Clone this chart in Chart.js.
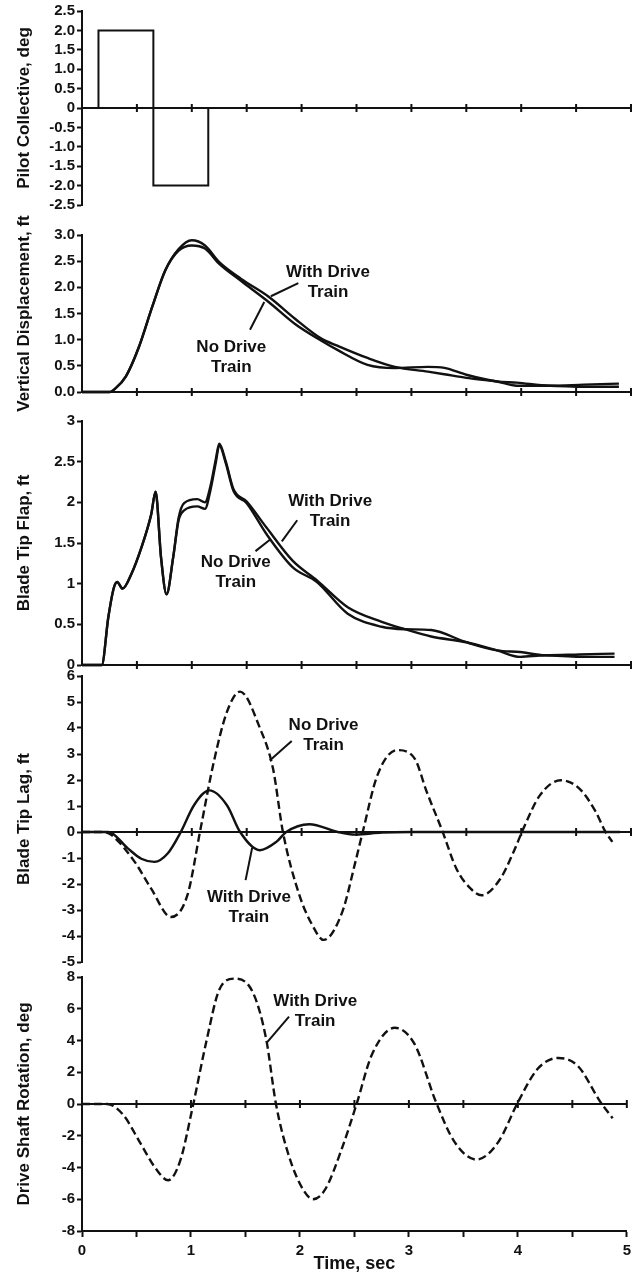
<!DOCTYPE html>
<html>
<head>
<meta charset="utf-8">
<title>Collective pulse response</title>
<script src="https://cdn.jsdelivr.net/npm/chart.js@4.4.1/dist/chart.umd.min.js"></script>
<style>
  html, body { margin: 0; padding: 0; background: #fff; }
  #page { position: relative; width: 636px; height: 1282px; overflow: hidden; background: #fff; }
  #page canvas { position: absolute; left: 0; }
</style>
</head>
<body>
<div id="page">
  <canvas id="collective-chart"></canvas>
  <canvas id="displacement-chart"></canvas>
  <canvas id="flap-chart"></canvas>
  <canvas id="lag-chart"></canvas>
  <canvas id="shaft-chart"></canvas>
</div>
<script>
// Pilot collective input (deg)
const collectiveTime = [0, 0.15, 0.15, 0.65, 0.65, 1.15, 1.15, 5];
const collectiveDeg = [0, 0, 2, 2, -2, -2, 0, 0];

// Vertical displacement (ft)
const dispTime = [0, 0.25, 0.3, 0.4, 0.52, 0.64, 0.76, 0.88, 1.0, 1.12, 1.25, 1.45, 1.7, 1.94, 2.18, 2.33, 2.6, 2.85, 3.15, 3.3, 3.5, 3.78, 3.96, 4.26, 4.57, 4.89];
const dispWith = [0, 0, 0.06, 0.3, 0.87, 1.63, 2.33, 2.73, 2.9, 2.8, 2.48, 2.16, 1.82, 1.4, 1.02, 0.88, 0.65, 0.48, 0.39, 0.34, 0.27, 0.2, 0.12, 0.12, 0.1, 0.1];
const dispNo = [0, 0, 0.06, 0.3, 0.87, 1.63, 2.33, 2.7, 2.8, 2.74, 2.45, 2.12, 1.72, 1.3, 0.98, 0.8, 0.52, 0.46, 0.48, 0.46, 0.33, 0.2, 0.18, 0.12, 0.14, 0.16];

// Blade tip flap (ft)
const flapTime = [0, 0.18, 0.24, 0.29, 0.32, 0.37, 0.45, 0.54, 0.63, 0.67, 0.72, 0.77, 0.83, 0.88, 0.93, 1.05, 1.12, 1.17, 1.22, 1.25, 1.31, 1.38, 1.5, 1.68, 1.92, 2.14, 2.42, 2.73, 2.94, 3.18, 3.5, 3.78, 3.99, 4.22, 4.53, 4.85];
const flapWith = [0, 0, 0.59, 0.95, 1.02, 0.94, 1.12, 1.44, 1.85, 2.13, 1.32, 0.87, 1.32, 1.81, 1.99, 2.04, 2.0, 2.2, 2.54, 2.72, 2.5, 2.16, 2.01, 1.69, 1.28, 1.04, 0.71, 0.53, 0.44, 0.35, 0.28, 0.18, 0.1, 0.12, 0.1, 0.1];
const flapNo = [0, 0, 0.59, 0.95, 1.02, 0.94, 1.12, 1.44, 1.85, 2.13, 1.32, 0.87, 1.32, 1.78, 1.9, 1.95, 1.92, 2.15, 2.5, 2.7, 2.48, 2.14, 1.99, 1.61, 1.2, 1.02, 0.63, 0.47, 0.44, 0.43, 0.28, 0.18, 0.16, 0.12, 0.13, 0.14];

// Blade tip lag (ft)
const lagTimeWith = [0, 0.24, 0.42, 0.54, 0.66, 0.78, 0.9, 1.02, 1.16, 1.32, 1.44, 1.62, 1.77, 1.86, 2.07, 2.33, 2.49, 2.73, 3.0, 4.9];
const lagWith = [0, 0, -0.64, -1.03, -1.15, -0.83, 0, 1.03, 1.6, 1.03, 0, -0.7, -0.38, 0, 0.3, 0, -0.1, -0.02, 0, 0];
const lagTimeNo = [0, 0.2, 0.27, 0.48, 0.63, 0.81, 0.96, 1.08, 1.2, 1.32, 1.44, 1.62, 1.74, 1.83, 1.98, 2.1, 2.2, 2.37, 2.49, 2.56, 2.69, 2.87, 3.03, 3.14, 3.28, 3.41, 3.54, 3.64, 3.81, 3.93, 4.02, 4.17, 4.36, 4.53, 4.68, 4.76, 4.83];
const lagNo = [0, 0, -0.12, -1.15, -2.18, -3.27, -2.43, 0.13, 2.69, 4.62, 5.4, 4.0, 2.43, 0, -2.43, -3.6, -4.15, -3.08, -1.15, 0.06, 2.18, 3.15, 2.82, 1.54, 0.06, -1.41, -2.18, -2.43, -1.8, -0.77, 0.13, 1.41, 1.99, 1.67, 0.77, 0.06, -0.38];

// Drive shaft rotation (deg)
const shaftTime = [0, 0.23, 0.38, 0.53, 0.68, 0.79, 0.9, 1.02, 1.14, 1.26, 1.4, 1.57, 1.69, 1.78, 1.9, 2.03, 2.12, 2.23, 2.38, 2.52, 2.66, 2.87, 3.05, 3.25, 3.42, 3.62, 3.82, 4.0, 4.18, 4.37, 4.55, 4.76, 4.87];
const shaftDeg = [0, 0, -0.7, -2.4, -4.1, -4.8, -3.6, -0.05, 3.9, 7.2, 7.9, 7.0, 4.1, 0, -3.3, -5.4, -6.0, -5.4, -2.9, 0, 3.1, 4.8, 3.8, 0.1, -2.4, -3.5, -2.4, 0.1, 2.2, 2.9, 2.4, 0.1, -0.9];

// Tick values and labels
const collectiveTicks = [-2.5, -2, -1.5, -1, -0.5, 0, 0.5, 1, 1.5, 2, 2.5];
const collectiveLabels = ['-2.5', '-2.0', '-1.5', '-1.0', '-0.5', '0', '0.5', '1.0', '1.5', '2.0', '2.5'];
const dispTicks = [0, 0.5, 1, 1.5, 2, 2.5, 3];
const dispLabels = ['0.0', '0.5', '1.0', '1.5', '2.0', '2.5', '3.0'];
const flapTicks = [0, 0.5, 1, 1.5, 2, 2.5, 3];
const flapLabels = ['0', '0.5', '1', '1.5', '2', '2.5', '3'];
const lagTicks = [-5, -4, -3, -2, -1, 0, 1, 2, 3, 4, 5, 6];
const lagLabels = ['-5', '-4', '-3', '-2', '-1', '0', '1', '2', '3', '4', '5', '6'];
const shaftTicks = [-8, -6, -4, -2, 0, 2, 4, 6, 8];
const shaftLabels = ['-8', '-6', '-4', '-2', '0', '2', '4', '6', '8'];
const timeTicks = [0, 0.5, 1, 1.5, 2, 2.5, 3, 3.5, 4, 4.5, 5];
const timeLabels = ['0', '', '1', '', '2', '', '3', '', '4', '', '5'];

const INK = '#111';
const FONT = "'Liberation Sans', Arial, Helvetica, sans-serif";
Chart.defaults.font.family = FONT;
Chart.defaults.font.weight = 'bold';
Chart.defaults.color = INK;

function points(xs, ys) {
    return xs.map((x, i) => ({ x: x, y: ys[i] }));
}

// zero line with small cross ticks, and curve labels with leader lines
const overlay = {
    id: 'overlay',
    beforeDatasetsDraw(chart) {
        const { ctx, chartArea, scales: { x, y } } = chart;
        const y0 = y.getPixelForValue(0);
        ctx.save();
        ctx.strokeStyle = INK;
        ctx.lineWidth = 2;
        ctx.beginPath();
        ctx.moveTo(chartArea.left, y0);
        ctx.lineTo(chartArea.right, y0);
        ctx.stroke();
        ctx.beginPath();
        for (let i = 1; i <= 10; i++) {
            const px = x.getPixelForValue(i * 0.5);
            ctx.moveTo(px, y0 - 4);
            ctx.lineTo(px, y0 + 4);
        }
        ctx.stroke();
        ctx.restore();
    },
    afterDatasetsDraw(chart, args, opts) {
        const { ctx, scales: { x, y } } = chart;
        ctx.save();
        ctx.fillStyle = INK;
        ctx.strokeStyle = INK;
        ctx.lineWidth = 2;
        ctx.font = 'bold 17px ' + FONT;
        ctx.textAlign = 'center';
        ctx.textBaseline = 'middle';
        (opts.notes || []).forEach(n => {
            const px = x.getPixelForValue(n.at[0]);
            const py = y.getPixelForValue(n.at[1]);
            n.text.forEach((line, i) => ctx.fillText(line, px, py + i * 20));
            ctx.beginPath();
            ctx.moveTo(x.getPixelForValue(n.leader[0]), y.getPixelForValue(n.leader[1]));
            ctx.lineTo(x.getPixelForValue(n.leader[2]), y.getPixelForValue(n.leader[3]));
            ctx.stroke();
        });
        ctx.restore();
    }
};

const PAGE_H = 1282;

function makePanel(p) {
    const canvas = document.getElementById(p.id);
    const top = Math.max(0, p.areaTop - 40);
    const bottom = p.timeAxis ? PAGE_H : p.areaBottom + 40;
    canvas.width = 636;
    canvas.height = bottom - top;
    canvas.style.top = top + 'px';

    new Chart(canvas, {
        type: 'line',
        data: { datasets: p.datasets },
        options: {
            responsive: false,
            devicePixelRatio: 1,
            animation: false,
            events: [],
            layout: {
                autoPadding: false,
                padding: { top: p.areaTop - top, bottom: p.timeAxis ? 0 : bottom - p.areaBottom, left: 0, right: 5 }
            },
            plugins: {
                legend: { display: false },
                tooltip: { enabled: false },
                overlay: { notes: p.notes }
            },
            scales: {
                x: {
                    type: 'linear',
                    min: 0,
                    max: 5,
                    display: !!p.timeAxis,
                    afterBuildTicks: s => { s.ticks = timeTicks.map(v => ({ value: v })); },
                    afterFit: s => { if (p.timeAxis) s.height = PAGE_H - p.areaBottom; },
                    ticks: {
                        font: { size: 15, weight: 'bold' },
                        color: INK,
                        padding: 5,
                        maxRotation: 0,
                        autoSkip: false,
                        callback: (v, i) => timeLabels[i]
                    },
                    grid: { drawOnChartArea: false, tickLength: 6, tickWidth: 2, tickColor: INK },
                    border: { color: INK, width: 2 },
                    title: {
                        display: true,
                        text: 'Time, sec',
                        font: { size: 18, weight: 'bold' },
                        color: INK,
                        padding: { top: 0, bottom: 7 }
                    }
                },
                y: {
                    type: 'linear',
                    min: p.ticks[0],
                    max: p.ticks[p.ticks.length - 1],
                    afterBuildTicks: s => { s.ticks = p.ticks.map(v => ({ value: v })); },
                    afterFit: s => { s.width = 82; },
                    ticks: {
                        font: { size: 15, weight: 'bold' },
                        color: INK,
                        padding: 2,
                        autoSkip: false,
                        callback: (v, i) => p.labels[i]
                    },
                    grid: { drawOnChartArea: false, tickLength: 5, tickWidth: 2, tickColor: INK },
                    border: { color: INK, width: 2 },
                    title: {
                        display: true,
                        text: p.title,
                        font: { size: 17, weight: 'bold' },
                        color: INK,
                        padding: { top: 14, bottom: 0 }
                    }
                }
            }
        },
        plugins: [overlay]
    });
}

function curve(xs, ys, dashed) {
    return {
        data: points(xs, ys),
        borderColor: INK,
        borderWidth: 2.4,
        borderDash: dashed ? [8, 4] : [],
        pointRadius: 0,
        fill: false,
        cubicInterpolationMode: 'monotone',
        clip: 8
    };
}

makePanel({
    id: 'collective-chart', areaTop: 10, areaBottom: 205,
    title: 'Pilot Collective, deg',
    ticks: collectiveTicks, labels: collectiveLabels,
    datasets: [{
        data: points(collectiveTime, collectiveDeg),
        borderColor: INK, borderWidth: 2, pointRadius: 0, tension: 0, fill: false, clip: 8
    }],
    notes: []
});

makePanel({
    id: 'displacement-chart', areaTop: 235, areaBottom: 392,
    title: 'Vertical Displacement, ft',
    ticks: dispTicks, labels: dispLabels,
    datasets: [curve(dispTime, dispWith, false), curve(dispTime, dispNo, false)],
    notes: [
        { text: ['With Drive', 'Train'], at: [2.24, 2.28], leader: [1.97, 2.08, 1.72, 1.83] },
        { text: ['No Drive', 'Train'], at: [1.36, 0.86], leader: [1.53, 1.19, 1.66, 1.72] }
    ]
});

makePanel({
    id: 'flap-chart', areaTop: 421, areaBottom: 665,
    title: 'Blade Tip Flap, ft',
    ticks: flapTicks, labels: flapLabels,
    datasets: [curve(flapTime, flapWith, false), curve(flapTime, flapNo, false)],
    notes: [
        { text: ['With Drive', 'Train'], at: [2.26, 2.01], leader: [1.96, 1.78, 1.82, 1.52] },
        { text: ['No Drive', 'Train'], at: [1.4, 1.26], leader: [1.58, 1.4, 1.72, 1.55] }
    ]
});

makePanel({
    id: 'lag-chart', areaTop: 676, areaBottom: 962,
    title: 'Blade Tip Lag, ft',
    ticks: lagTicks, labels: lagLabels,
    datasets: [curve(lagTimeWith, lagWith, false), curve(lagTimeNo, lagNo, true)],
    notes: [
        { text: ['No Drive', 'Train'], at: [2.2, 4.1], leader: [1.91, 3.5, 1.71, 2.75] },
        { text: ['With Drive', 'Train'], at: [1.52, -2.5], leader: [1.49, -1.85, 1.55, -0.6] }
    ]
});

makePanel({
    id: 'shaft-chart', areaTop: 977, areaBottom: 1231, timeAxis: true,
    title: 'Drive Shaft Rotation, deg',
    ticks: shaftTicks, labels: shaftLabels,
    datasets: [curve(shaftTime, shaftDeg, true)],
    notes: [
        { text: ['With Drive', 'Train'], at: [2.14, 6.45], leader: [1.9, 5.5, 1.7, 3.9] }
    ]
});
</script>
</body>
</html>
